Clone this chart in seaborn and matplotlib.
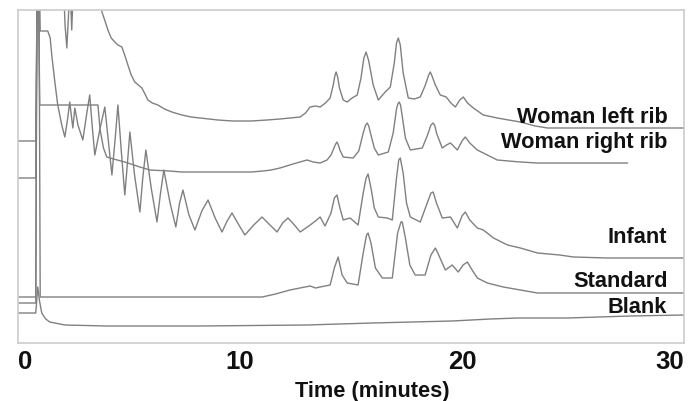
import numpy as np
import pandas as pd
import matplotlib
matplotlib.use("Agg")
import matplotlib.pyplot as plt
import seaborn as sns

# ---- data: time (minutes) and detector signal (arbitrary, offset traces) ----
left_rib_t = [0, 0.80, 0.88, 1.97, 2.12, 2.20, 2.29, 2.34, 2.42, 2.50, 2.56, 3.70, 3.78, 3.92, 4.05, 4.20,
              4.36, 4.50, 4.68, 4.82, 4.95, 5.10, 5.26, 5.42, 5.58, 5.72, 5.85, 6.05, 6.30, 6.60, 6.93,
              7.38, 7.80, 8.20, 9.00, 9.68, 10.50, 11.22, 11.80, 12.25, 12.71, 12.95, 13.16, 13.40,
              13.61, 13.85, 14.06, 14.20, 14.27, 14.33, 14.40, 14.48, 14.65, 14.83, 15.05, 15.28, 15.45,
              15.58, 15.68, 15.80, 16.00, 16.23, 16.50, 16.77, 16.95, 17.05, 17.13, 17.22, 17.35,
              17.58, 17.85, 18.12, 18.35, 18.50, 18.57, 18.65, 18.80, 19.02, 19.29, 19.50, 19.70,
              19.90, 20.06, 20.25, 20.51, 20.96, 21.59, 22.10, 22.63, 23.30, 23.85, 30.0]
left_rib_s = [202, 202, 400, 400, 318, 295, 335, 360, 313, 360, 400, 400, 331, 322, 313, 305,
              301, 298, 296, 287, 278, 268, 261, 258, 255, 249, 243, 240, 238, 234, 231,
              228, 226, 225, 223, 222, 222, 223, 224, 225, 226, 230, 236, 237,
              236, 240, 245, 258, 267, 271, 266, 255, 243, 241, 245, 248, 265,
              285, 291, 282, 258, 243, 250, 256, 280, 300, 305, 298, 270,
              245, 244, 246, 258, 268, 271, 267, 258, 248, 246, 240, 236,
              243, 246, 240, 235, 228, 225, 223, 221, 217, 215, 215]

right_rib_t = [0, 0.80, 0.88, 0.98, 3.60, 3.70, 3.85, 4.00, 4.30, 4.81, 5.49, 5.94, 6.80, 7.38, 8.50,
               9.50, 10.50, 11.04, 11.40, 11.80, 12.10, 12.39, 12.70, 13.02, 13.30, 13.61, 13.92,
               14.10, 14.25, 14.31, 14.37, 14.43, 14.50, 14.65, 15.10, 15.35, 15.55, 15.66, 15.73,
               15.80, 15.90, 16.05, 16.23, 16.68, 16.90, 17.05, 17.11, 17.17, 17.23, 17.30, 17.45,
               17.67, 18.21, 18.45, 18.60, 18.70, 18.78, 18.85, 19.11, 19.30, 19.48, 19.79, 20.00,
               20.15, 20.35, 20.69, 21.14, 21.59, 22.10, 22.63, 23.40, 27.46]
right_rib_s = [165, 165, 400, 238, 238, 213, 195, 186, 184, 181, 176, 173, 172, 171, 171,
               171, 171, 172, 173, 175, 177, 179, 181, 183, 181, 180, 183,
               188, 196, 199, 201, 198, 193, 186, 185, 192, 210, 218, 220,
               217, 208, 195, 188, 191, 210, 234, 239, 241, 238, 228, 205,
               193, 195, 208, 218, 220, 217, 210, 195, 198, 200, 193, 202,
               206, 200, 193, 188, 183, 182, 181, 180, 180]

infant_t = [0, 0.80, 0.86, 0.94, 1.00, 1.34, 1.45, 1.52, 1.66, 1.79, 1.97, 2.11, 2.24, 2.33, 2.47,
            2.56, 2.70, 2.92, 3.10, 3.23, 3.35, 3.46, 3.70, 3.91, 4.08, 4.23, 4.38, 4.50, 4.66,
            4.81, 4.93, 5.04, 5.25, 5.49, 5.62, 5.76, 6.00, 6.26, 6.42, 6.57, 6.85, 7.11, 7.28,
            7.43, 7.70, 7.97, 8.28, 8.56, 8.88, 9.19, 9.42, 9.64, 9.95, 10.22, 10.62, 10.99,
            11.35, 11.67, 11.92, 12.16, 12.45, 12.71, 13.10, 13.40, 13.61, 13.83, 14.10, 14.25,
            14.37, 14.50, 14.65, 14.96, 15.32, 15.55, 15.68, 15.77, 15.90, 16.05, 16.23, 16.63,
            16.86, 17.05, 17.15, 17.22, 17.35, 17.50, 17.67, 18.12, 18.40, 18.60, 18.70, 18.85,
            19.11, 19.48, 19.79, 20.00, 20.15, 20.35, 20.69, 20.96, 21.42, 22.05, 22.63, 23.40,
            24.40, 25.02, 26.55, 30.0]
infant_s = [40, 40, 400, 400, 312, 312, 305, 288, 261, 238, 218, 206, 225, 241, 215,
            235, 218, 203, 230, 248, 215, 188, 215, 236, 200, 168, 205, 238, 190,
            148, 180, 211, 168, 131, 165, 193, 155, 121, 150, 173, 140, 116, 140,
            153, 128, 113, 132, 143, 125, 111, 122, 130, 118, 108, 118, 126,
            118, 111, 120, 125, 118, 111, 117, 122, 126, 117, 130, 145,
            148, 135, 123, 125, 118, 150, 165, 169, 155, 135, 126, 125,
            123, 165, 183, 185, 170, 140, 126, 121, 138, 150, 151, 140,
            125, 126, 115, 127, 131, 123, 115, 113, 105, 98, 95, 90,
            88, 86, 85, 85]

standard_t = [0, 0.80, 0.86, 0.94, 1.00, 5.00, 11.00, 11.60, 12.25, 12.70, 13.16, 13.40, 13.61,
              14.06, 14.25, 14.42, 14.60, 14.83, 15.32, 15.55, 15.70, 15.77, 15.90, 16.10, 16.41,
              16.86, 17.10, 17.25, 17.31, 17.45, 17.65, 17.89, 18.34, 18.60, 18.80, 18.95, 19.25,
              19.56, 19.83, 20.05, 20.24, 20.40, 20.69, 21.14, 21.86, 22.63, 23.40, 30.0]
standard_s = [46, 46, 400, 400, 46, 46, 46, 49, 53, 55, 57, 55, 56,
              58, 75, 86, 68, 60, 58, 90, 108, 110, 100, 75, 65,
              65, 110, 121, 121, 105, 78, 68, 68, 88, 95, 88, 73,
              78, 71, 78, 81, 75, 65, 60, 56, 53, 50, 50]

blank_t = [0, 0.80, 0.89, 0.97, 1.07, 1.25, 1.43, 2.11, 4.00, 8.20, 13.0, 15.96, 19.56, 21.28,
           22.50, 24.75, 27.60, 30.0]
blank_s = [30, 30, 56, 42, 30, 24, 21, 18, 17, 17, 18, 20, 22, 24,
           25, 25, 27, 28]

trace_names = ["Woman left rib", "Woman right rib", "Infant", "Standard", "Blank"]
label_baselines = [220, 195, 100, 56, 30]
major_ticks = [0, 10, 20, 30]
minor_ticks = list(range(0, 31, 2))

# ---- build long table ----
frames = []
for name, t, s in zip(trace_names,
                      [left_rib_t, right_rib_t, infant_t, standard_t, blank_t],
                      [left_rib_s, right_rib_s, infant_s, standard_s, blank_s]):
    frames.append(pd.DataFrame({"time": t, "signal": s, "trace": name}))
df = pd.concat(frames, ignore_index=True)

sns.set_style("white")
plt.rcParams["font.family"] = ["Liberation Sans", "DejaVu Sans"]

fig = plt.figure(figsize=(6.89, 4.01), dpi=100)
ax = fig.add_axes([18 / 689, 58 / 401, 666 / 689, 333 / 401])

line_color = "#808080"
sns.lineplot(data=df, x="time", y="signal", hue="trace", estimator=None, sort=False,
             palette={n: line_color for n in trace_names}, linewidth=1.0,
             legend=False, ax=ax)

ax.set_xlim(0, 30)
ax.set_ylim(0, 333)
ax.set_yticks([])
ax.set_ylabel("")
ax.set_xticks(major_ticks)
ax.set_xticks(minor_ticks, minor=True)
ax.set_xticklabels([str(v) for v in major_ticks], fontsize=18.5, fontweight="bold", color="#111111")
ax.tick_params(axis="x", which="both", direction="in", length=3, width=1, color="#bbbbbb", pad=5)
labs = ax.get_xticklabels()
labs[0].set_ha("left")
labs[-1].set_ha("right")

for sp in ax.spines.values():
    sp.set_color("#cccccc")
    sp.set_linewidth(1.2)

ax.set_xlabel("Time (minutes)", fontsize=15.7, fontweight="bold", color="#111111", va="center")
ax.xaxis.set_label_coords((372 - 18) / 666, -0.147)

for name, yb in zip(trace_names, label_baselines):
    ax.text(29.25, yb, name, ha="right", va="baseline", fontsize=15.7,
            fontweight="bold", color="#111111")

fig.savefig("out.png", dpi=100)
